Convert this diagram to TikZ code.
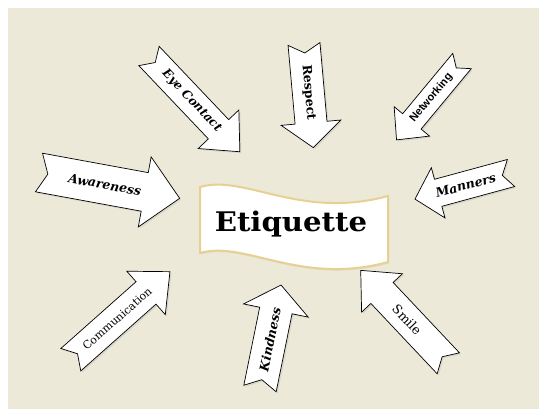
\documentclass[tikz,border=0pt]{standalone}
\usepackage{fontspec}
\setmainfont{DejaVu Serif}
\newfontfamily\netfont{Liberation Sans}
\usepackage{tikz}
\usetikzlibrary{shadows}
\definecolor{paper}{RGB}{236,233,217}
\definecolor{gold}{RGB}{230,208,146}

\begin{document}
\begin{tikzpicture}[x=1pt, y=-1pt,
    tagarrow/.style={draw=black, fill=white, line width=0.7pt, line join=miter,
        drop shadow={opacity=0.18, shadow xshift=1.5pt, shadow yshift=-1.5pt}},
    tagtext/.style={inner sep=0pt, font=\fontsize{12}{14}\selectfont\bfseries\itshape},
    banner/.style={draw=gold, fill=white, line width=2pt,
        drop shadow={opacity=0.12, shadow xshift=1pt, shadow yshift=-1.5pt}}]
    % background
    \fill[white] (0,0) rectangle (546,413);
    \fill[paper] (8,8) rectangle (539,409);

    % centre banner
    \draw[banner] (200,187) .. controls (245,174) and (300,220) .. (388,196)
        -- (388,262) .. controls (300,286) and (245,240) .. (200,253) -- cycle;
    \node[anchor=base, xscale=1.08, font=\fontsize{27}{30}\selectfont\bfseries] (etiq) at (291,231) {Etiquette};

    % Eye Contact
    \begin{scope}[shift={(149,56)}, rotate=-46.5]
        \draw[tagarrow] (0,14) -- (101,14) -- (101,28) -- (132,0) -- (101,-28) -- (101,-14) -- (0,-14) -- (9,0) -- cycle;
        \node[tagtext, rotate=-46.5] (eyecontact) at (62,0) {Eye Contact};
    \end{scope}
    % Respect
    \begin{scope}[shift={(304,44)}, rotate=-84.9]
        \draw[tagarrow] (0,16) -- (79,16) -- (79,30) -- (104,0) -- (79,-30) -- (79,-16) -- (0,-16) -- (9,0) -- cycle;
        \node[tagtext, font=\fontsize{12.5}{14}\selectfont\bfseries, rotate=-84.9] (respect) at (49,0) {Respect};
    \end{scope}
    % Networking
    \begin{scope}[shift={(462,61)}, rotate=-129.7]
        \draw[tagarrow] (0,12) -- (78.5,12) -- (78.5,23) -- (102.5,0) -- (78.5,-23) -- (78.5,-12) -- (0,-12) -- (9,0) -- cycle;
        \node[tagtext, font=\netfont\fontsize{11}{13}\selectfont\bfseries, rotate=50.3] (networking) at (48,0) {Networking};
    \end{scope}
    % Awareness
    \begin{scope}[shift={(39,172.5)}, rotate=-10.4]
        \draw[tagarrow] (0,19.6) -- (107.5,19.6) -- (107.5,35.6) -- (143,0) -- (107.5,-35.6) -- (107.5,-19.6) -- (0,-19.6) -- (9,0) -- cycle;
        \node[tagtext, font=\fontsize{12.5}{14}\selectfont\bfseries\itshape, rotate=-10.4] (awareness) at (67,0) {Awareness};
    \end{scope}
    % Manners
    \begin{scope}[shift={(511,173)}, rotate=-164.8]
        \draw[tagarrow] (0,14) -- (75.5,14) -- (75.5,26) -- (99.5,0) -- (75.5,-26) -- (75.5,-14) -- (0,-14) -- (9,0) -- cycle;
        \node[tagtext, font=\fontsize{12.5}{14}\selectfont\bfseries\itshape, rotate=15.2] (manners) at (47,0) {Manners};
    \end{scope}
    % Communication
    \begin{scope}[shift={(70.8,359.7)}, rotate=41.6]
        \draw[tagarrow] (0,15) -- (100.6,15) -- (100.6,29) -- (132.6,0) -- (100.6,-29) -- (100.6,-15) -- (0,-15) -- (9,0) -- cycle;
        \node[tagtext, font=\fontsize{11}{13}\selectfont, rotate=41.6] (communication) at (62,0) {Communication};
    \end{scope}
    % Kindness
    \begin{scope}[shift={(260,388.5)}, rotate=78.5]
        \draw[tagarrow] (0,16.5) -- (79.6,16.5) -- (79.6,33) -- (105.6,0) -- (79.6,-33) -- (79.6,-16.5) -- (0,-16.5) -- (9,0) -- cycle;
        \node[tagtext, font=\fontsize{12.5}{14}\selectfont\bfseries\itshape, rotate=78.5] (kindness) at (50,0) {Kindness};
    \end{scope}
    % Smile
    \begin{scope}[shift={(448.3,363.3)}, rotate=133.3]
        \draw[tagarrow] (0,15.3) -- (96.7,15.3) -- (96.7,28) -- (127.7,0) -- (96.7,-28) -- (96.7,-15.3) -- (0,-15.3) -- (9,0) -- cycle;
        \node[tagtext, font=\fontsize{12.5}{14}\selectfont, rotate=-46.7] (smile) at (60,0) {Smile};
    \end{scope}
\end{tikzpicture}
\end{document}
